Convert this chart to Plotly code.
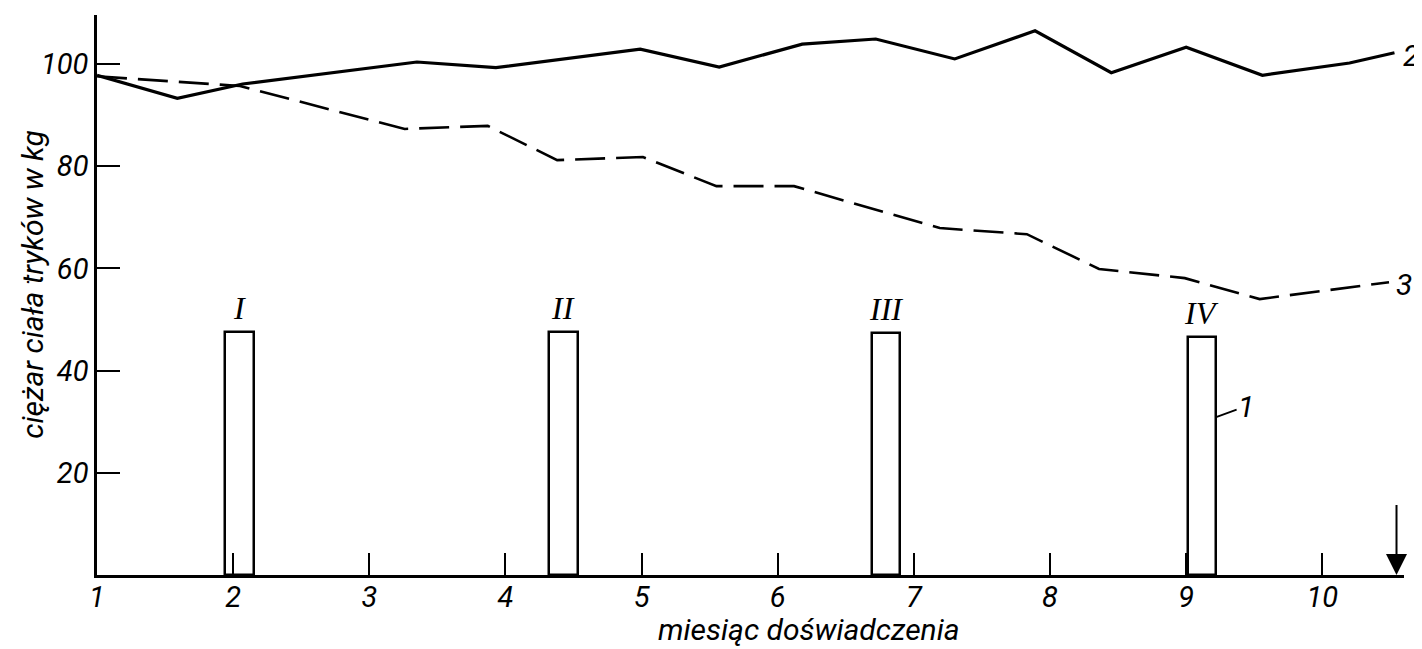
import plotly.graph_objects as go

# ---- data ----
months_line2 = [1.0, 1.59, 2.07, 3.35, 3.93, 4.99, 5.57, 6.18, 6.72, 7.30, 7.89, 8.45, 9.00, 9.56, 10.20, 10.53]
weight_line2 = [97.8, 93.3, 96.1, 100.4, 99.3, 102.9, 99.4, 103.9, 104.9, 101.0, 106.5, 98.3, 103.3, 97.8, 100.2, 102.2]

months_line3 = [1.0, 2.05, 3.26, 3.87, 4.38, 5.01, 5.55, 6.12, 7.19, 7.83, 8.36, 8.99, 9.54, 10.49]
weight_line3 = [97.6, 95.7, 87.3, 87.9, 81.2, 81.8, 76.1, 76.1, 67.9, 66.7, 59.9, 58.1, 54.0, 57.3]

bar_months = [2.045, 4.425, 6.795, 9.115]
bar_weights = [47.6, 47.6, 47.4, 46.6]
bar_labels = ["I", "II", "III", "IV"]

x_ticks = [1, 2, 3, 4, 5, 6, 7, 8, 9, 10]
y_ticks = [20, 40, 60, 80, 100]

SANS = "Roboto, Liberation Sans, Arial, sans-serif"
SERIF = "Liberation Serif, Times New Roman, DejaVu Serif, serif"

fig = go.Figure()

fig.add_trace(go.Bar(
    x=bar_months, y=bar_weights, width=0.21,
    marker=dict(color="white", line=dict(color="black", width=2.5)),
    showlegend=False, hoverinfo="skip"))

fig.add_trace(go.Scatter(
    x=months_line2, y=weight_line2, mode="lines",
    line=dict(color="black", width=3.2),
    showlegend=False, cliponaxis=False))

fig.add_trace(go.Scatter(
    x=months_line3, y=weight_line3, mode="lines",
    line=dict(color="black", width=2.6, dash="30px,11px"),
    showlegend=False, cliponaxis=False))

lab_font = dict(family=SANS, size=30, color="black", style="italic")
roman_font = dict(family=SERIF, size=32, color="black", style="italic")

annotations = []
for bx, by, bl in zip(bar_months, bar_weights, bar_labels):
    annotations.append(dict(x=bx, y=by, xref="x", yref="y", text=bl,
                            showarrow=False, xanchor="center", yanchor="bottom",
                            yshift=4, font=roman_font))

annotations += [
    dict(x=months_line2[-1], y=weight_line2[-1], xref="x", yref="y", text="2",
         showarrow=False, xanchor="left", xshift=7, yshift=-3, font=lab_font),
    dict(x=months_line3[-1], y=weight_line3[-1], xref="x", yref="y", text="3",
         showarrow=False, xanchor="left", xshift=5, yshift=-2, font=lab_font),
    dict(x=bar_months[3] + 0.105, y=30.9, xref="x", yref="y", text="1",
         showarrow=True, arrowhead=0, arrowwidth=1.8, arrowcolor="black",
         ax=30, ay=-11, font=lab_font),
    dict(x=10.545, y=0, xref="x", yref="y", axref="x", ayref="y",
         ax=10.545, ay=14, text="", showarrow=True, arrowhead=2,
         arrowsize=2.1, arrowwidth=2, arrowcolor="black"),
    dict(x=6.23, y=-0.098, xref="x", yref="paper", text="miesiąc doświadczenia",
         showarrow=False, xanchor="center", yanchor="middle",
         font=dict(family=SANS, size=30, color="black", style="italic")),
    dict(x=-0.049, y=57, xref="paper", yref="y", text="ciężar ciała tryków w kg",
         showarrow=False, textangle=-90, xanchor="center", yanchor="middle",
         font=dict(family=SANS, size=30, color="black", style="italic")),
]

# the page body has an 8px default margin, so the figure is laid out 8px smaller
fig.update_layout(
    width=1414, height=641,
    margin=dict(l=89, r=18, t=7, b=74),
    paper_bgcolor="white", plot_bgcolor="white",
    font=dict(family=SANS, color="black", style="italic"),
    showlegend=False,
    annotations=annotations,
    bargap=0,
)

fig.update_xaxes(
    range=[1, 10.6], tickvals=x_ticks, ticktext=[str(v) for v in x_ticks],
    ticks="inside", ticklen=22, tickwidth=2, tickcolor="black",
    showline=True, linewidth=2.5, linecolor="black",
    showgrid=False, zeroline=False, ticklabelstandoff=-6,
    tickfont=dict(family=SANS, size=29, color="black", style="italic"),
)
fig.update_yaxes(
    range=[0, 109.6], tickvals=y_ticks, ticktext=[str(v) for v in y_ticks],
    ticks="inside", ticklen=23, tickwidth=2, tickcolor="black",
    showline=True, linewidth=2.5, linecolor="black",
    showgrid=False, zeroline=False,
    tickfont=dict(family=SANS, size=29, color="black", style="italic"),
)

fig.write_html("out.html")
